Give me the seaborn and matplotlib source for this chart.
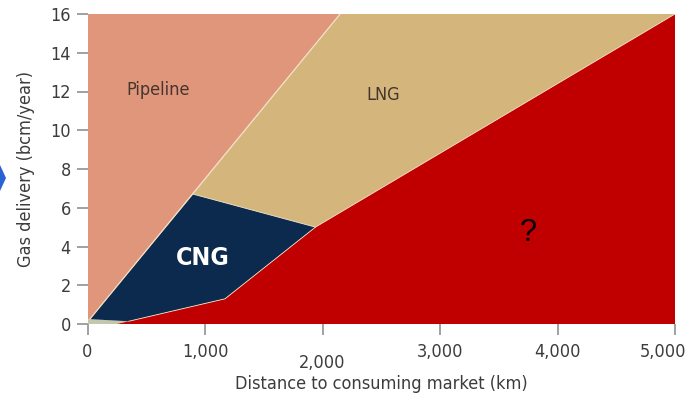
import matplotlib
matplotlib.use("Agg")
import matplotlib.pyplot as plt
from matplotlib.patches import Polygon
from matplotlib.transforms import ScaledTranslation
import seaborn as sns

# Region outlines: distance to consuming market (km) vs gas delivery (bcm/year)
pipeline_km = [0, 0, 2150, 900, 20]
pipeline_bcm = [0.25, 16, 16, 6.7, 0.25]

lng_km = [900, 2150, 5000, 1940]
lng_bcm = [6.7, 16, 16, 5.0]

cng_km = [20, 900, 1940, 1170, 350]
cng_bcm = [0.25, 6.7, 5.0, 1.3, 0.14]

unknown_km = [250, 1170, 1940, 5000, 5000]
unknown_bcm = [0, 1.3, 5.0, 16, 0]

residual_km = [0, 0, 20, 350, 250]
residual_bcm = [0, 0.25, 0.25, 0.14, 0]

x_ticks = [0, 1000, 2000, 3000, 4000, 5000]
x_tick_labels = ["0", "1,000", "2,000", "3,000", "4,000", "5,000"]
y_ticks = [0, 2, 4, 6, 8, 10, 12, 14, 16]

sns.set_theme(style="white")
plt.rcParams["font.family"] = ["DejaVu Sans"]
plt.rcParams["font.stretch"] = "condensed"

fig = plt.figure(figsize=(6.88, 3.98), dpi=100)
ax = fig.add_axes([87.5 / 688, 1 - 324 / 398, (675 - 87.5) / 688, (324 - 14) / 398])

c_pipe = "#e0967a"
c_lng = "#d4b67d"
c_cng = "#0c2a4e"
c_unknown = "#c00000"
c_residual = "#c3c7ab"

ax.fill(residual_km, residual_bcm, color=c_residual, lw=0)
ax.fill(pipeline_km, pipeline_bcm, color=c_pipe, lw=0)
ax.fill(lng_km, lng_bcm, color=c_lng, lw=0)
ax.fill(unknown_km, unknown_bcm, color=c_unknown, lw=0)
ax.fill(cng_km, cng_bcm, color=c_cng, lw=0)

# light seams between neighbouring regions
edge = "#f3e2c6"
ax.plot([20, 2150], [0.25, 16], color=edge, lw=0.9)
ax.plot([900, 1940, 5000], [6.7, 5.0, 16], color=edge, lw=0.6)
ax.plot([350, 1170, 1940], [0.14, 1.3, 5.0], color=edge, lw=0.6)

ax.set_xlim(0, 5000)
ax.set_ylim(0, 16)
ax.set_xticks(x_ticks)
ax.set_xticklabels(x_tick_labels)
ax.set_yticks(y_ticks)
sns.despine(ax=ax, left=True, bottom=True)

ax.tick_params(axis="both", which="major", direction="out", length=8,
               width=1.3, color="#9a9a9a", labelsize=13, labelcolor="#3c3c3c",
               bottom=True, left=True)
ax.tick_params(axis="x", pad=6)
ax.tick_params(axis="y", pad=4)
ax.xaxis.get_major_ticks()[2].set_pad(13.5)

# pull the last distance label inward so it stays on the canvas
last = ax.xaxis.get_major_ticks()[-1].label1
last.set_transform(last.get_transform()
                   + ScaledTranslation(-12 / 100, 0, fig.dpi_scale_trans))

ax.set_xlabel("Distance to consuming market (km)", fontsize=13,
              color="#3c3c3c", labelpad=2)
ax.set_ylabel("Gas delivery (bcm/year)", fontsize=13, color="#3c3c3c",
              labelpad=11)

ax.text(600, 12.1, "Pipeline", fontsize=13, color="#45352f",
        ha="center", va="center")
ax.text(2520, 11.8, "LNG", fontsize=13, color="#45352f",
        ha="center", va="center")
ax.text(985, 3.4, "CNG", fontsize=18, fontweight="bold", color="white",
        ha="center", va="center")
ax.text(3750, 4.7, "?", fontsize=22, color="black", ha="center",
        va="center", family=["Liberation Sans", "DejaVu Sans"],
        fontstretch="normal")

# small navigation marker on the left margin
fig.add_artist(Polygon([[0, 1 - 165 / 398], [6 / 688, 1 - 178 / 398],
                        [0, 1 - 191 / 398]], closed=True,
                       transform=fig.transFigure, color="#2a62d6", lw=0))

fig.savefig("out.png", dpi=100)
